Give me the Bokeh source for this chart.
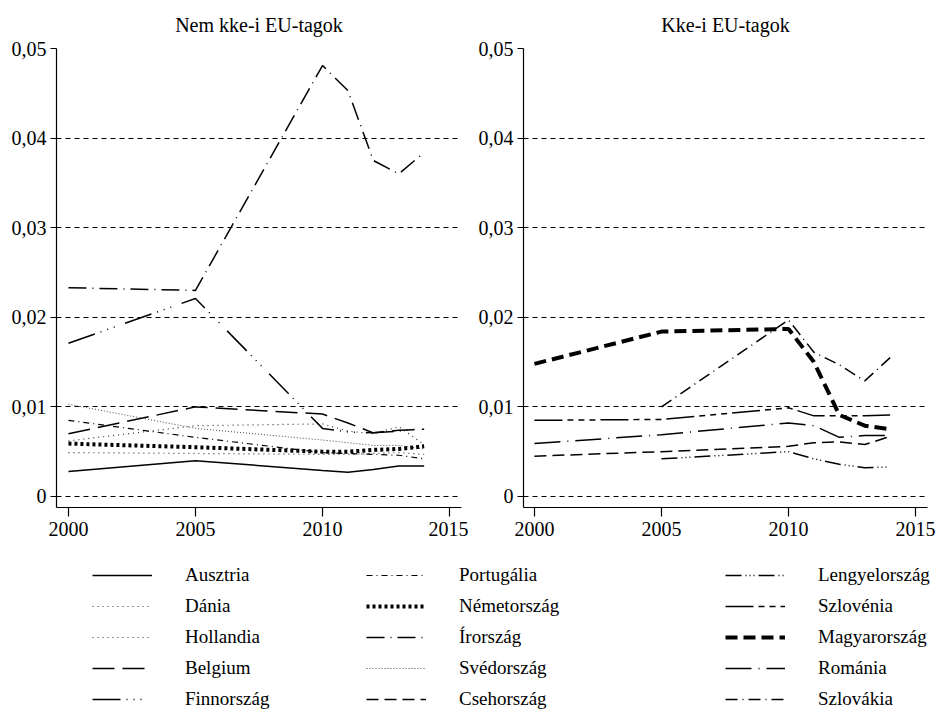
import numpy as np
from bokeh.plotting import figure
from bokeh.models import FixedTicker, Legend, LegendItem, Range1d
from bokeh.layouts import column, row
from bokeh.embed import file_html
from bokeh.resources import INLINE

nan = float("nan")
years = [2000, 2005, 2010, 2011, 2012, 2013, 2014]

# Non-CEE EU members
ausztria = [0.0028, 0.0040, 0.0029, 0.0027, 0.0030, 0.0034, 0.0034]
dania = [0.0062, 0.0079, 0.0081, 0.0073, 0.0070, 0.0078, 0.0058]
hollandia = [0.0049, 0.0048, 0.0047, 0.0047, 0.0048, 0.0049, 0.0047]
belgium = [0.0070, 0.0100, 0.0092, 0.0082, 0.0071, 0.0074, 0.0075]
finnorszag = [0.0171, 0.0221, 0.0076, 0.0072, 0.0071, 0.0073, 0.0076]
portugalia = [0.0085, 0.0066, 0.0049, 0.0048, 0.0047, 0.0046, 0.0042]
nemetorszag = [0.0059, 0.0055, 0.0050, 0.0050, 0.0052, 0.0053, 0.0056]
irorszag = [0.0233, 0.0230, 0.0481, 0.0453, 0.0375, 0.0360, 0.0384]
svedorszag = [0.0103, 0.0076, 0.0063, 0.0060, 0.0057, 0.0057, 0.0053]

# CEE EU members
csehorszag = [0.0045, 0.0050, 0.0056, 0.0060, 0.0061, 0.0058, 0.0067]
lengyelorszag = [nan, 0.0042, 0.0050, 0.0042, 0.0036, 0.0032, 0.0033]
szlovenia = [0.0085, 0.0086, 0.0099, 0.0090, 0.0090, 0.0090, 0.0091]
magyarorszag = [0.0148, 0.0184, 0.0187, 0.0150, 0.0091, 0.0079, 0.0075]
romania = [0.0059, 0.0069, 0.0082, 0.0079, 0.0066, 0.0068, 0.0068]
szlovakia = [nan, 0.0100, 0.0197, 0.0161, 0.0147, 0.0129, 0.0155]

y_ticks = [0, 0.01, 0.02, 0.03, 0.04, 0.05]
y_labels = ["0", "0,01", "0,02", "0,03", "0,04", "0,05"]
x_ticks = [2000, 2005, 2010, 2015]

titles = ["Nem kke-i EU-tagok", "Kke-i EU-tagok"]

FONT = "Liberation Serif"

# name, values, dash, width, color
left_series = [
    ("Ausztria", ausztria, "solid", 1.5, "black"),
    ("Dánia", dania, "1 4", 1.2, "#333333"),
    ("Hollandia", hollandia, "1 4", 1.2, "#333333"),
    ("Belgium", belgium, "22 8", 1.5, "black"),
    ("Finnország", finnorszag, "28 6 1 6 1 6 1 11", 1.5, "black"),
]
mid_series = [
    ("Portugália", portugalia, "6 4 1 4", 1.2, "black"),
    ("Németország", nemetorszag, "3 3", 4.0, "black"),
    ("Írország", irorszag, "18 6 1 6", 1.5, "black"),
    ("Svédország", svedorszag, "1 2", 1.0, "#444444"),
    ("Csehország", csehorszag, "12 6", 1.5, "black"),
]
right_series = [
    ("Lengyelország", lengyelorszag, "16 4 1 3 1 3 1 4", 1.5, "black"),
    ("Szlovénia", szlovenia, "28 5 6 5 6 5 6 5", 1.5, "black"),
    ("Magyarország", magyarorszag, "12 6", 4.0, "black"),
    ("Románia", romania, "26 7 1 7", 1.5, "black"),
    ("Szlovákia", szlovakia, "12 5 1 5", 1.5, "black"),
]

panel_members = [
    ["Ausztria", "Dánia", "Hollandia", "Belgium", "Finnország", "Portugália",
     "Németország", "Írország", "Svédország"],
    ["Csehország", "Lengyelország", "Szlovénia", "Magyarország", "Románia", "Szlovákia"],
]

all_series = {s[0]: s for s in left_series + mid_series + right_series}


def make_panel(title, border_left, border_right, frame_w, x_start, members):
    p = figure(frame_width=frame_w, frame_height=459,
               min_border_left=border_left, min_border_right=border_right,
               min_border_top=48, min_border_bottom=38,
               x_range=Range1d(x_start, 2015.47), y_range=Range1d(-0.00123, 0.05),
               output_backend="svg", toolbar_location=None, title=title)
    p.title.text_font = FONT
    p.title.text_font_size = "20px"
    p.title.text_font_style = "normal"
    p.title.text_color = "black"
    p.title.align = "center"
    p.title.vertical_align = "middle"
    p.title.standoff = 24
    p.outline_line_color = None
    p.background_fill_color = "white"
    p.border_fill_color = "white"

    p.xgrid.visible = False
    p.ygrid.ticker = FixedTicker(ticks=y_ticks)
    p.ygrid.grid_line_color = "black"
    p.ygrid.grid_line_dash = "5 4"
    p.ygrid.grid_line_width = 1

    p.yaxis.ticker = FixedTicker(ticks=y_ticks)
    p.yaxis.major_label_overrides = {t: l for t, l in zip(y_ticks, y_labels)}
    p.xaxis.ticker = FixedTicker(ticks=x_ticks)
    for ax in (p.xaxis, p.yaxis):
        ax.axis_line_color = "black"
        ax.axis_line_width = 1.2
        ax.major_tick_line_color = "black"
        ax.major_tick_line_width = 1.2
        ax.major_tick_in = 0
        ax.minor_tick_line_color = None
        ax.major_label_text_font = FONT
        ax.major_label_text_font_size = "20px"
        ax.major_label_text_color = "black"
    p.yaxis.major_tick_out = 6
    p.yaxis.major_label_standoff = 4
    p.xaxis.major_tick_out = 9
    p.xaxis.major_label_standoff = 5

    for name in members:
        _, vals, dash, width, color = all_series[name]
        p.line(years, np.array(vals, dtype=float), line_color=color,
               line_width=width, line_dash=dash)
    return p


p1 = make_panel(titles[0], 56, 7, 405, 1999.53, panel_members[0])
p2 = make_panel(titles[1], 55, 9, 404, 1999.57, panel_members[1])

leg = figure(width=936, height=168, x_range=Range1d(0, 1), y_range=Range1d(0, 1),
             x_axis_type=None, y_axis_type=None, min_border=0,
             output_backend="svg", toolbar_location=None)
leg.grid.visible = False
leg.outline_line_color = None

col_x = [92, 366, 725]
for cx, group in zip(col_x, [left_series, mid_series, right_series]):
    items = []
    for name, vals, dash, width, color in group:
        r = leg.line(x=np.array([nan, nan]), y=np.array([nan, nan]), line_color=color,
                     line_width=width, line_dash=dash)
        items.append(LegendItem(label=name, renderers=[r]))
    lg = Legend(items=items, location=(cx, 3), orientation="vertical",
                glyph_width=60, glyph_height=20, label_height=20, label_standoff=33,
                spacing=9, padding=0, margin=0,
                border_line_color=None, background_fill_alpha=0,
                label_text_font=FONT, label_text_font_size="19px",
                label_text_color="black")
    leg.add_layout(lg)

layout = column(row(p1, p2), leg)
open("out.html", "w").write(file_html(layout, INLINE))
